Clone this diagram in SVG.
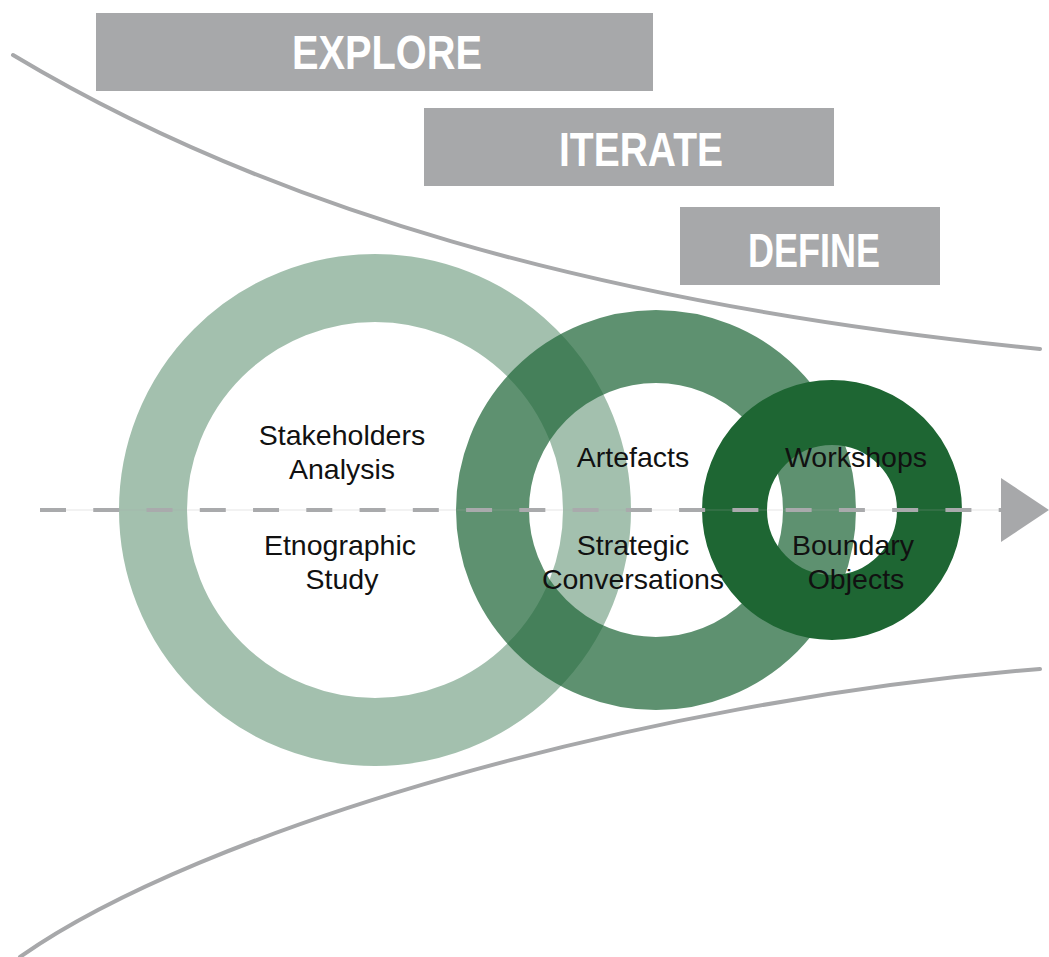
<svg xmlns="http://www.w3.org/2000/svg" width="1049" height="957" viewBox="0 0 1049 957">
  <style>
    .banner rect { fill: #a7a8aa; }
    .banner text { font-family: "Liberation Sans", Arial, sans-serif; font-weight: bold; font-size: 49px; fill: #ffffff; text-anchor: middle; }
    .funnel { fill: none; stroke: #a7a8aa; stroke-width: 4; stroke-linecap: round; }
    .ring { fill: none; stroke: #22683b; }
    .label { font-family: "Liberation Sans", Arial, sans-serif; font-size: 28.5px; fill: #111111; text-anchor: middle; }
    .axis { stroke: #a9aaac; stroke-width: 4; fill: none; }
  </style>

  <!-- funnel outline -->
  <g id="funnel">
    <path class="funnel" d="M13,55 C263,205 590,304 1040,349"/>
    <path class="funnel" d="M20,957 C200,830 640,701 1040,669"/>
  </g>

  <!-- phase banners -->
  <g id="explore" class="banner">
    <rect x="96" y="13" width="557" height="78"/>
    <text x="387" y="69" textLength="190" lengthAdjust="spacingAndGlyphs">EXPLORE</text>
  </g>
  <g id="iterate" class="banner">
    <rect x="424" y="108" width="410" height="78"/>
    <text x="641" y="166" textLength="164" lengthAdjust="spacingAndGlyphs">ITERATE</text>
  </g>
  <g id="define" class="banner">
    <rect x="680" y="207" width="260" height="78"/>
    <text x="814" y="267" textLength="132" lengthAdjust="spacingAndGlyphs">DEFINE</text>
  </g>

  <!-- rings -->
  <g id="ring-explore">
    <circle class="ring" cx="375" cy="510" r="222" stroke-width="68" stroke-opacity="0.417"/>
  </g>
  <g id="ring-iterate">
    <circle class="ring" cx="656" cy="510" r="163.5" stroke-width="73" stroke-opacity="0.73"/>
  </g>
  <g id="ring-define">
    <circle class="ring" cx="832" cy="510" r="97.5" stroke-width="65" style="stroke:#1e6633"/>
  </g>

  <!-- dashed process axis with arrowhead -->
  <g id="connectors">
    <line x1="40" y1="510" x2="1001" y2="510" stroke="#a7a8aa" stroke-width="1" stroke-opacity="0.3"/>
    <line class="axis" x1="40" y1="510" x2="1010" y2="510" stroke-dasharray="26 27.26"/>
    <polygon points="1001,478 1001,542 1049,510" fill="#a7a8aa"/>
  </g>

  <!-- ring labels -->
  <g id="labels-explore" class="label">
    <text x="342" y="445">Stakeholders</text>
    <text x="342" y="479">Analysis</text>
    <text x="340" y="555">Etnographic</text>
    <text x="342" y="589">Study</text>
  </g>
  <g id="labels-iterate" class="label">
    <text x="633" y="467">Artefacts</text>
    <text x="633" y="555">Strategic</text>
    <text x="633" y="589">Conversations</text>
  </g>
  <g id="labels-define" class="label">
    <text x="856" y="467">Workshops</text>
    <text x="853" y="555">Boundary</text>
    <text x="856" y="589">Objects</text>
  </g>
</svg>
